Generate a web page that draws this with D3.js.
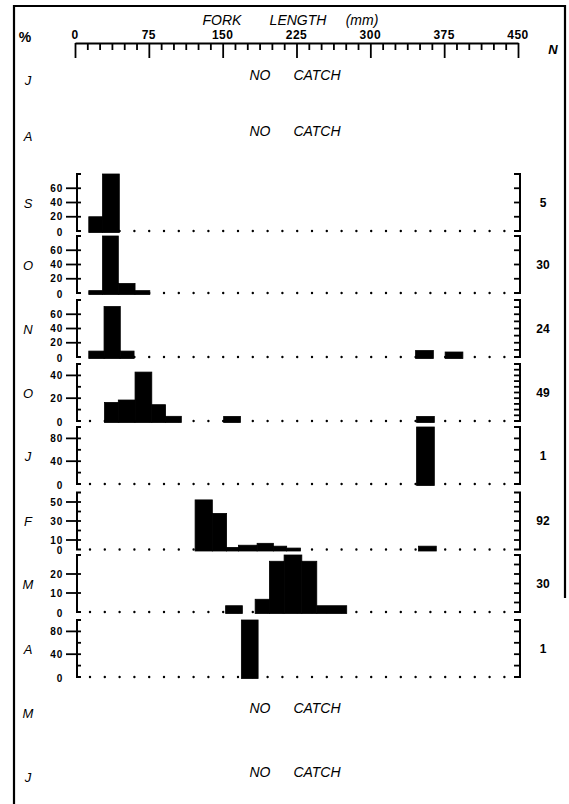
<!doctype html>
<html>
<head>
<meta charset="utf-8">
<script src="https://d3js.org/d3.v7.min.js"></script>
<style>
  body { margin: 0; background: white; }
  svg { background: white; font-family: 'Liberation Sans', Arial, sans-serif; }
  .ital { font-style: italic; }
  .num { font-weight: bold; }
</style>
</head>
<body>
<svg width="569" height="804"></svg>
<script>
// months from top to bottom
var months = ["J", "A", "S", "O", "N", "O", "J", "F", "M", "A", "M", "J"];
var sampleN = [null, null, 5, 30, 24, 49, 1, 92, 30, 1, null, null];
var axisTicks = [0, 75, 150, 225, 300, 375, 450];

// percent scale top per panel, labelled ticks and tick steps
var panelMax   = [80, 80, 80, 50, 100, 60, 30, 100];
var panelLabels = [[0, 20, 40, 60], [0, 20, 40, 60], [0, 20, 40, 60], [0, 20, 40], [0, 40, 80], [0, 10, 30, 50], [0, 10, 20], [0, 40, 80]];
var leftStep   = [20, 20, 20, 10, 20, 10, 10, 20];
var rightStep  = [20, 20, 10, 5, 20, 10, 5, 20];

// bars: [from mm, to mm, percent]
var binsSep = [[14, 28, 20], [28, 45, 80]];
var binsOct = [[14, 28, 3.3], [28, 44, 80], [44, 61, 13.3], [61, 76, 3.3]];
var binsNov = [[14, 29.5, 8.3], [29.5, 46, 70.8], [46, 60, 8.3], [346, 364, 9], [376, 394, 7]];
var binsDec = [[30, 44, 16.3], [44, 61, 18.4], [61, 78, 42.9], [78, 92, 14.3], [92, 108, 4.1], [151, 168, 4], [347, 365, 4]];
var binsJan = [[347, 365, 100]];
var binsFeb = [[122, 139.5, 52.2], [139.5, 154, 38], [154, 166, 2.2], [166, 185, 4.5], [185, 201.5, 6.5], [201.5, 215, 3.5], [215, 229, 1.5], [349, 367, 3.5]];
var binsMar = [[153, 170, 3.3], [183, 197.5, 6.7], [197.5, 212.4, 26.7], [212.4, 230.4, 30], [230.4, 245.6, 26.7], [245.6, 276, 3.3]];
var binsApr = [[169, 186, 100]];
var panelBins = [binsSep, binsOct, binsNov, binsDec, binsJan, binsFeb, binsMar, binsApr];

// layout
var rowY = [80, 136, 203, 265, 329, 393, 456, 521, 584, 649, 713, 777];
var panelZero = [231, 293, 357, 421, 484, 549.5, 612, 677];
var panelH = 57;

var svg = d3.select("svg");
var x = d3.scaleLinear().domain([0, 450]).range([75, 518]);

// frame
svg.append("path")
  .attr("d", "M14,804 L14,6 L565,6 L565,598")
  .attr("fill", "none").attr("stroke", "#000").attr("stroke-width", 2.2);

// title
svg.append("text").attr("class", "ital").attr("x", 222).attr("y", 25).attr("text-anchor", "middle").attr("font-size", 14).text("FORK");
svg.append("text").attr("class", "ital").attr("x", 298).attr("y", 25).attr("text-anchor", "middle").attr("font-size", 14).text("LENGTH");
svg.append("text").attr("class", "ital").attr("x", 362).attr("y", 25).attr("text-anchor", "middle").attr("font-size", 14).text("(mm)");

svg.append("text").attr("class", "num").attr("x", 25).attr("y", 42).attr("text-anchor", "middle").attr("font-size", 14).text("%");
svg.append("text").attr("class", "ital num").attr("x", 553).attr("y", 54).attr("text-anchor", "middle").attr("font-size", 13).text("N");

// top ruler
var ruler = svg.append("g").attr("transform", "translate(0,43)");
ruler.call(d3.axisBottom(x).tickValues(d3.range(0, 450.1, 12.5)).tickSize(7).tickSizeOuter(0).tickFormat(""));
ruler.selectAll(".tick line").attr("stroke-width", 1.8);
ruler.select(".domain").attr("stroke-width", 2.2);
ruler.selectAll(".tick").filter(function (d) { return d % 75 === 0; }).select("line").attr("y2", 15);
svg.selectAll("text.axnum").data(axisTicks).join("text")
  .attr("class", "axnum num")
  .attr("x", function (d) { return x(d); })
  .attr("y", 39)
  .attr("text-anchor", "middle")
  .attr("font-size", 12)
  .attr("letter-spacing", 0.5)
  .text(function (d) { return d; });

// month letters
svg.selectAll("text.month").data(months).join("text")
  .attr("class", "month ital")
  .attr("x", 28)
  .attr("y", function (d, i) { return rowY[i] + 5; })
  .attr("text-anchor", "middle")
  .attr("font-size", 13)
  .text(function (d) { return d; });

// no catch rows
months.forEach(function (m, i) {
  if (sampleN[i] !== null) return;
  svg.append("text").attr("class", "ital").attr("x", 260).attr("y", rowY[i]).attr("text-anchor", "middle").attr("font-size", 14).text("NO");
  svg.append("text").attr("class", "ital").attr("x", 317).attr("y", rowY[i]).attr("text-anchor", "middle").attr("font-size", 14).text("CATCH");
});

// panels
var ax = 77, rx = 520;
panelBins.forEach(function (bins, i) {
  var z = panelZero[i];
  var max = panelMax[i];
  var y = d3.scaleLinear().domain([0, max]).range([z, z - panelH]);
  var g = svg.append("g");

  // dotted baseline
  g.append("line")
    .attr("x1", 90).attr("x2", 508).attr("y1", z).attr("y2", z)
    .attr("stroke", "#000").attr("stroke-width", 2.4)
    .attr("stroke-linecap", "round").attr("stroke-dasharray", "0,14.8");

  // bars
  g.selectAll("rect").data(bins).join("rect")
    .attr("x", function (d) { return x(d[0]); })
    .attr("width", function (d) { return x(d[1]) - x(d[0]); })
    .attr("y", function (d) { return y(d[2]); })
    .attr("height", function (d) { return z - y(d[2]) + 1.5; })
    .attr("fill", "#000")
    .attr("stroke", "#000").attr("stroke-width", 0.8);

  // left axis
  g.append("path")
    .attr("d", "M" + (ax + 4) + "," + y(max) + " H" + ax + " V" + y(0) + " H" + (ax + 4))
    .attr("fill", "none").attr("stroke", "#000").attr("stroke-width", 2);
  var lt = d3.range(leftStep[i], max, leftStep[i]);
  g.selectAll("line.lt").data(lt).join("line")
    .attr("class", "lt")
    .attr("x1", function (d) { return panelLabels[i].indexOf(d) >= 0 ? ax - 11 : ax; })
    .attr("x2", ax + 4)
    .attr("y1", function (d) { return y(d); })
    .attr("y2", function (d) { return y(d); })
    .attr("stroke", "#000").attr("stroke-width", 1.8);
  g.selectAll("text.ll").data(panelLabels[i]).join("text")
    .attr("class", "ll num")
    .attr("x", 63)
    .attr("y", function (d) { return y(d) + (d === 0 ? 4.5 : 3.5); })
    .attr("text-anchor", "end")
    .attr("font-size", 10)
    .attr("letter-spacing", 0.8)
    .text(function (d) { return d; });

  // right axis
  g.append("path")
    .attr("d", "M" + (rx - 6) + "," + y(max) + " H" + rx + " V" + y(0) + " H" + (rx - 6))
    .attr("fill", "none").attr("stroke", "#000").attr("stroke-width", 2);
  g.selectAll("line.rt").data(d3.range(rightStep[i], max, rightStep[i])).join("line")
    .attr("class", "rt")
    .attr("x1", rx - 6).attr("x2", rx)
    .attr("y1", function (d) { return y(d); })
    .attr("y2", function (d) { return y(d); })
    .attr("stroke", "#000").attr("stroke-width", 1.8);

  // sample size
  g.append("text")
    .attr("class", "num")
    .attr("x", 543)
    .attr("y", y(max / 2) + 4)
    .attr("text-anchor", "middle")
    .attr("font-size", 12)
    .text(sampleN[i + 2]);
});
</script>
</body>
</html>
